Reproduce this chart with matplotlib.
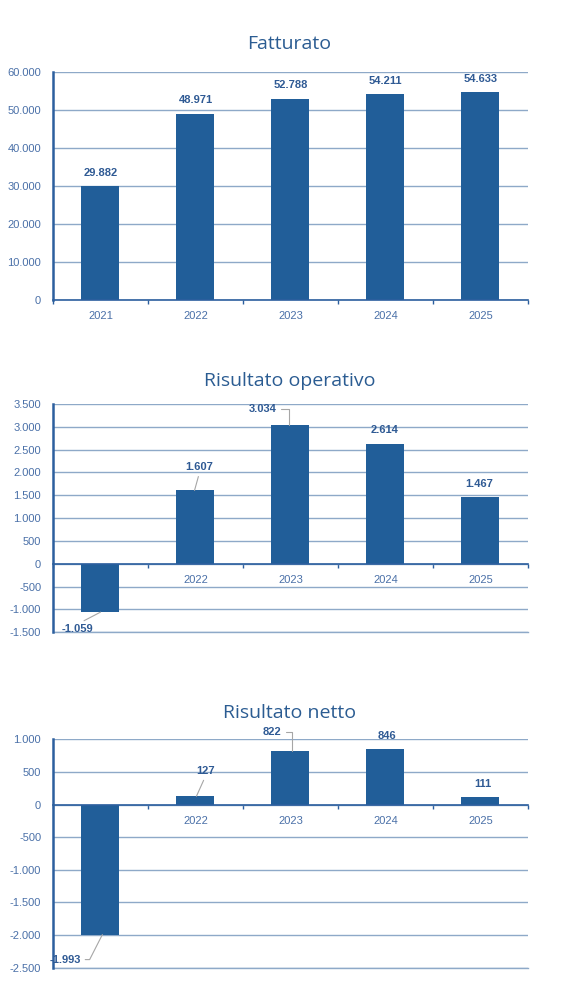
import matplotlib.pyplot as plt
from matplotlib.ticker import FixedLocator, FuncFormatter

# data
years = ['2021', '2022', '2023', '2024', '2025']
fatturato = [29882, 48971, 52788, 54211, 54633]
risultato_operativo = [-1059, 1607, 3034, 2614, 1467]
risultato_netto = [-1993, 127, 822, 846, 111]

BAR = '#215E99'
SPINE = '#2C5F9E'
GRID = '#8EA9C8'
TICK = '#4A70A8'
LABEL = '#2F5A94'
TITLE = '#2B5C92'
LEADER = '#A6A6A6'

plt.rcParams['font.family'] = ['Liberation Sans', 'DejaVu Sans']


def fmt_it(v, pos=None):
    s = f'{abs(int(round(v))):,}'.replace(',', '.')
    return '-' + s if v < 0 else s


def draw_panel(ax, values, ylim, step, labels):
    x = list(range(len(values)))
    ax.bar(x, values, width=0.4, color=BAR, zorder=2)
    ax.set_axisbelow(True)
    ax.set_xlim(-0.5, len(values) - 0.5)
    ax.set_ylim(*ylim)
    ticks = list(range(ylim[0], ylim[1] + 1, step))
    ax.yaxis.set_major_locator(FixedLocator(ticks))
    ax.yaxis.set_major_formatter(FuncFormatter(fmt_it))
    ax.grid(axis='y', color=GRID, lw=1)
    ax.tick_params(axis='y', length=0, pad=8.5, labelsize=8, labelcolor=TICK)

    ax.xaxis.set_major_locator(FixedLocator([i - 0.5 for i in range(len(values) + 1)]))
    ax.xaxis.set_major_formatter(FuncFormatter(lambda v, p: ''))
    ax.set_xticks(x, years, minor=True)
    ax.tick_params(axis='x', which='major', length=3, width=1, color=SPINE, direction='out')
    ax.tick_params(axis='x', which='minor', length=0, pad=8, labelsize=8, labelcolor=TICK)

    for s in ['top', 'right']:
        ax.spines[s].set_visible(False)
    ax.spines['bottom'].set_position(('data', 0))
    ax.spines['bottom'].set_color(SPINE)
    ax.spines['bottom'].set_linewidth(1.2)
    ax.spines['bottom'].set_zorder(3)
    ax.spines['left'].set_color(SPINE)
    ax.spines['left'].set_linewidth(1.8)
    if ylim[0] < 0:
        ax.axhline(ylim[0], color=GRID, lw=1, zorder=0.5, clip_on=False)

    # data labels: (dx, dy) pixel offset, leader (x shift, connection, relpos)
    for i, v in enumerate(values):
        dx, dy, lead = labels[i]
        kw = dict(textcoords='offset pixels', ha='center', va='center',
                  fontsize=8, fontweight='bold', color=LABEL, zorder=4)
        if lead is None:
            ax.annotate(fmt_it(v), xy=(i, v), xytext=(dx, dy), **kw)
        else:
            shift, conn, rel = lead
            ax.annotate(fmt_it(v), xy=(i + shift, v), xytext=(dx, dy),
                        arrowprops=dict(arrowstyle='-', color=LEADER, lw=0.8,
                                        shrinkA=1, shrinkB=0,
                                        connectionstyle=conn, relpos=rel), **kw)


fig = plt.figure(figsize=(5.79, 10.06), dpi=100)

ax1 = fig.add_axes([0.0915, 0.7015, 0.8204, 0.2272])
draw_panel(ax1, fatturato, (0, 60000), 10000,
           [(0, 13, None), (0, 14, None), (0, 14, None), (0, 13, None), (0, 13, None)])

ax2 = fig.add_axes([0.0915, 0.3715, 0.8204, 0.2269])
draw_panel(ax2, risultato_operativo, (-1500, 3500), 500,
           [(-23, -17, (0.0, 'arc3', (0.5, 1.0))),
            (5, 23, (-0.01, 'arc3', (0.5, 0.0))),
            (-26, 16, (-0.02, 'angle,angleA=0,angleB=90,rad=0', (1.0, 0.5))),
            (-1, 14, None),
            (-1, 13, None)])

ax3 = fig.add_axes([0.0915, 0.0381, 0.8204, 0.2270])
draw_panel(ax3, risultato_netto, (-2500, 1000), 500,
           [(-37, -25, (0.02, 'angle,angleA=0,angleB=63,rad=0', (1.0, 0.5))),
            (9, 25, (0.01, 'arc3', (0.5, 0.0))),
            (-20, 19, (0.02, 'angle,angleA=0,angleB=90,rad=0', (1.0, 0.5))),
            (1, 13, None),
            (2, 13, None)])

for title, ypix in [('Fatturato', 44), ('Risultato operativo', 381), ('Risultato netto', 713)]:
    fig.text(0.5, 1 - ypix / 1006, title, ha='center', va='center',
             fontsize=14, color=TITLE, family=['Open Sans', 'DejaVu Sans'])

fig.savefig('out.png', dpi=100, facecolor='white')
